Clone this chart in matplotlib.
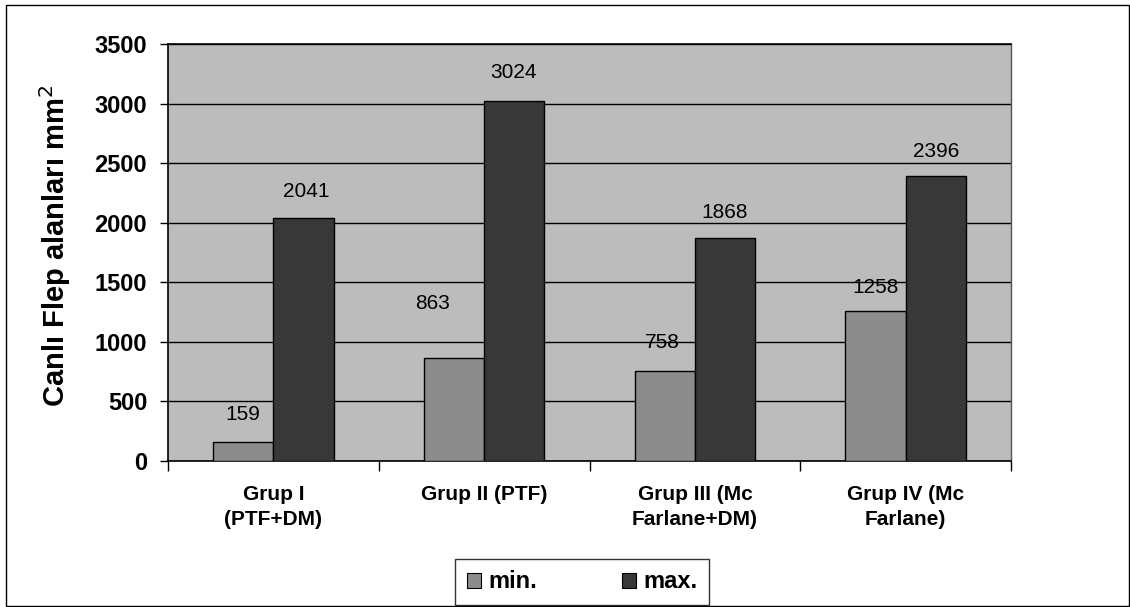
import matplotlib
matplotlib.use("Agg")
import matplotlib.pyplot as plt
import numpy as np
from matplotlib.patches import Rectangle, Patch
from matplotlib.ticker import FixedLocator

categories = ["Grup I\n(PTF+DM)", "Grup II (PTF)", "Grup III (Mc\nFarlane+DM)", "Grup IV (Mc\nFarlane)"]
min_values = [159, 863, 758, 1258]
max_values = [2041, 3024, 1868, 2396]
series_names = ["min.", "max."]
y_ticks = [0, 500, 1000, 1500, 2000, 2500, 3000, 3500]
y_label = "Canlı Flep alanları mm$^2$"

# label offsets in pixels (style only)
min_dx = [0, -21, -2, 0]
min_dy = [28, 55, 28, 24]
max_dx = [3, -1, 0, 0]
max_dy = [26, 28, 26, 24]

plt.rcParams['font.family'] = ['Liberation Sans', 'DejaVu Sans']

W, H = 1130, 607
fig = plt.figure(figsize=(W / 100, H / 100), dpi=100)
fig.patch.set_facecolor("white")

# outer chart border
fig.add_artist(Rectangle((6 / W, 1 - 606 / H), (1129 - 6) / W, (606 - 5) / H,
                         transform=fig.transFigure, fill=False, edgecolor="black", linewidth=1.0))

ax = fig.add_axes([168 / W, 1 - 461 / H, (1011 - 168) / W, (461 - 44) / H])
ax.set_facecolor("#bcbcbc")

x = np.arange(len(categories))
w = 1 / 3.5
b1 = ax.bar(x - w / 2, min_values, w, color="#8c8c8c", edgecolor="black", linewidth=1.0, zorder=3)
b2 = ax.bar(x + w / 2, max_values, w, color="#383838", edgecolor="black", linewidth=1.0, zorder=3)

for bars, vals, dxs, dys in ((b1, min_values, min_dx, min_dy), (b2, max_values, max_dx, max_dy)):
    for rect, v, dx, dy in zip(bars, vals, dxs, dys):
        ax.annotate(str(v), (rect.get_x() + rect.get_width() / 2, v),
                    xytext=(dx * 0.72, dy * 0.72), textcoords="offset points",
                    ha="center", va="center", fontsize=15, color="black", zorder=4)

ax.set_xlim(-0.5, len(categories) - 0.5)
ax.set_ylim(0, 3500)
ax.set_yticks(y_ticks)
ax.yaxis.grid(True, color="black", linewidth=1.0, zorder=1)
ax.set_axisbelow(True)
ax.tick_params(axis="y", labelsize=17, length=6, width=1, direction="out", pad=9)
for lab in ax.get_yticklabels():
    lab.set_fontweight("bold")

ax.set_xticks(x)
ax.set_xticklabels(categories, fontsize=15, fontweight="bold", linespacing=1.45)
ax.tick_params(axis="x", which="major", length=0, pad=17)
ax.xaxis.set_minor_locator(FixedLocator(np.arange(-0.5, len(categories), 1.0)))
ax.tick_params(axis="x", which="minor", length=7, width=1, direction="out")

for s in ["left", "bottom", "top"]:
    ax.spines[s].set_color("black")
    ax.spines[s].set_linewidth(1.2)
ax.spines["right"].set_color("#555555")
ax.spines["right"].set_linewidth(1.0)

fig.text(55 / W, 1 - 246 / H, y_label, rotation=90, ha="center", va="center",
         fontsize=21, fontweight="bold")

handles = [Patch(facecolor="#8c8c8c", edgecolor="black", linewidth=0.8),
           Patch(facecolor="#383838", edgecolor="black", linewidth=0.8)]
leg = fig.legend(handles, series_names, loc="center", bbox_to_anchor=(582 / W, 1 - 582 / H),
                 ncol=2, frameon=True, fancybox=False, edgecolor="black",
                 prop={"weight": "bold", "size": 17}, handlelength=0.6, handleheight=0.6,
                 handletextpad=0.3, columnspacing=3.6, borderpad=0.5, borderaxespad=0)
leg.get_frame().set_linewidth(1.0)
leg._legend_box.sep = 0
fig.canvas.draw()
# widen legend frame horizontally to match reference
leg.borderpad = 0.5

fig.savefig("out.png", dpi=100)
